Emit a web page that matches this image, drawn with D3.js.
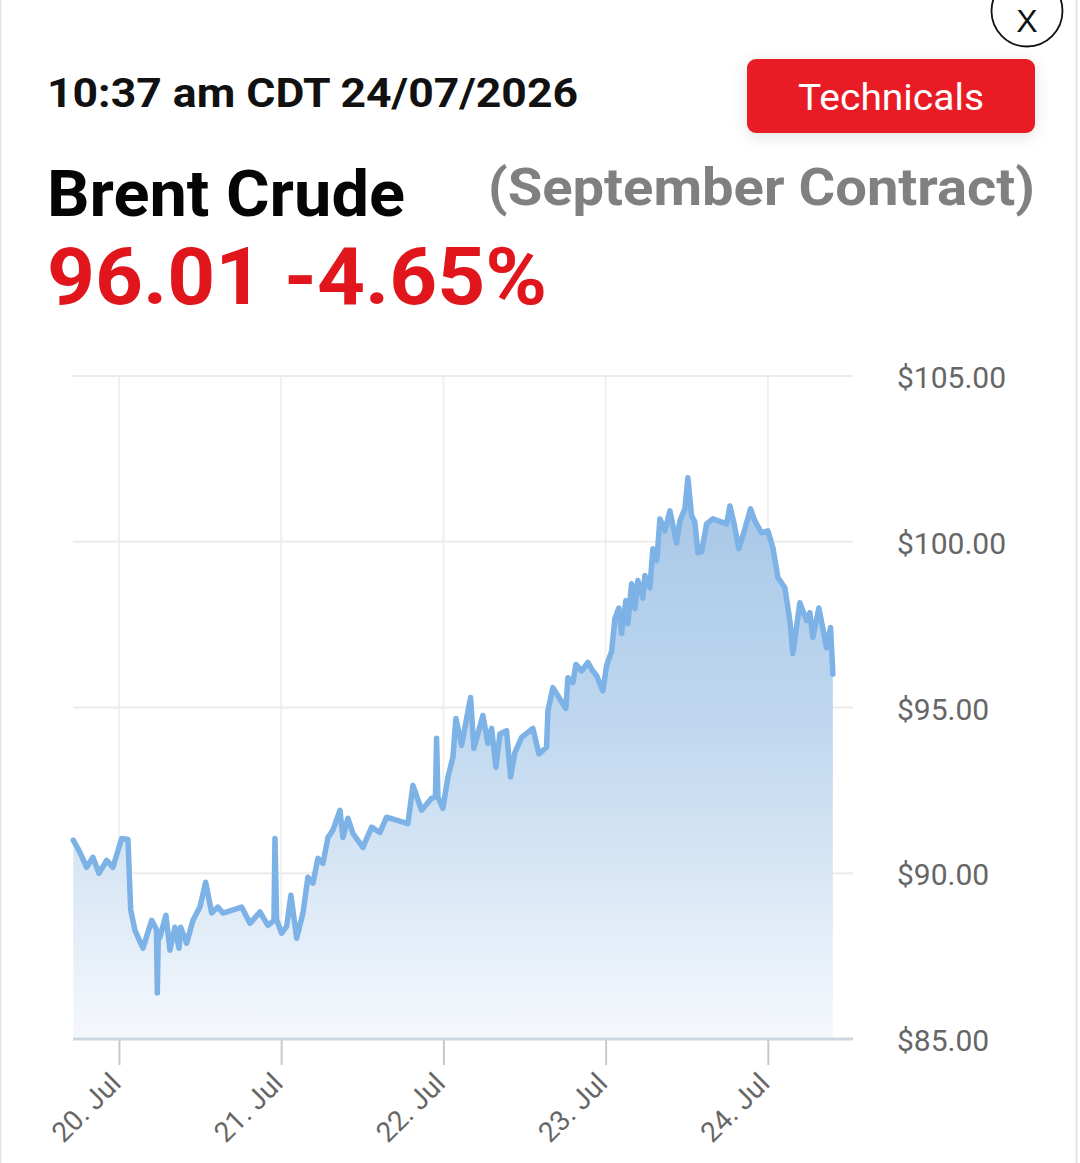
<!DOCTYPE html>
<html>
<head>
<meta charset="utf-8">
<script src="https://cdn.jsdelivr.net/npm/d3@7"></script>
<style>
  html, body { margin: 0; padding: 0; background: #ffffff; }
  svg { display: block; font-family: Roboto, "Liberation Sans", Arial, sans-serif; }
</style>
</head>
<body>
<svg id="chart" width="1080" height="1163"></svg>
<script>
// ---- data (hours after 20 Jul 2026 00:00, price in USD) ----
const hours = [
  -6.76, -5.77, -4.78, -3.85, -2.96, -1.82, -0.89, 0.40, 1.33, 1.73,
  2.37, 3.55, 4.84, 5.55, 5.67, 5.81, 6.06, 6.95, 7.54, 8.28,
  8.88, 9.13, 10.01, 10.95, 11.98, 12.83, 13.71, 14.64, 15.38, 18.15,
  19.38, 20.86, 22.04, 22.93, 23.08, 23.33, 24.07, 24.81, 25.44, 26.29,
  27.22, 27.96, 28.70, 29.44, 30.18, 30.92, 31.66, 32.70, 33.13, 33.87,
  34.62, 35.35, 36.09, 37.38, 38.61, 39.60, 42.75, 43.49, 44.78, 46.25,
  46.82, 46.99, 47.19, 47.93, 48.67, 49.41, 49.85, 50.69, 52.02, 52.51,
  53.84, 54.58, 55.13, 55.77, 56.36, 57.35, 57.94, 58.58, 59.57, 61.24,
  62.13, 63.26, 63.46, 64.20, 66.12, 66.42, 67.16, 67.60, 68.45, 69.38,
  70.12, 70.67, 71.59, 72.15, 72.89, 73.37, 73.96, 74.36, 74.99, 75.29,
  75.84, 76.33, 76.77, 77.51, 77.81, 78.55, 78.99, 79.58, 80.03, 80.77,
  81.51, 82.50, 82.99, 83.73, 84.17, 84.72, 85.20, 85.65, 86.20, 86.94,
  87.87, 89.90, 90.39, 90.98, 91.72, 92.61, 93.44, 94.08, 95.07, 96.01,
  96.75, 97.49, 98.52, 99.26, 99.70, 100.74, 101.73, 102.22, 102.66, 103.55,
  104.69, 105.28, 105.62
];
const prices = [
  91.00, 90.63, 90.18, 90.48, 90.00, 90.39, 90.18, 91.05, 91.02, 88.90,
  88.28, 87.74, 88.58, 88.30, 86.39, 88.00, 88.07, 88.73, 87.68, 88.37,
  87.74, 88.37, 87.89, 88.58, 88.98, 89.73, 88.80, 88.98, 88.80, 88.98,
  88.49, 88.83, 88.43, 88.58, 91.05, 88.60, 88.19, 88.40, 89.34, 88.04,
  88.80, 89.88, 89.70, 90.45, 90.30, 91.08, 91.30, 91.90, 91.08, 91.66,
  91.20, 90.99, 90.78, 91.39, 91.23, 91.69, 91.50, 92.65, 91.90, 92.26,
  92.30, 94.07, 92.30, 91.96, 92.90, 93.50, 94.67, 93.86, 95.30, 93.77,
  94.76, 93.92, 94.37, 93.20, 94.20, 94.30, 92.90, 93.64, 94.10, 94.37,
  93.60, 93.80, 94.90, 95.60, 94.97, 95.90, 95.75, 96.30, 96.10, 96.36,
  96.10, 95.96, 95.50, 96.27, 96.70, 97.68, 98.00, 97.23, 98.22, 97.53,
  98.73, 97.98, 98.83, 98.30, 98.98, 98.61, 99.79, 99.43, 100.69, 100.33,
  100.93, 99.97, 100.63, 101.00, 101.93, 100.78, 100.60, 99.67, 99.70, 100.54,
  100.69, 100.54, 101.08, 100.57, 99.79, 100.39, 100.99, 100.63, 100.27, 100.33,
  99.82, 98.92, 98.61, 97.62, 96.63, 98.16, 97.62, 97.86, 97.11, 98.00,
  96.80, 97.41, 96.01
];
const yTicks = [85, 90, 95, 100, 105];
const dayTicks = ["2026-07-20", "2026-07-21", "2026-07-22", "2026-07-23", "2026-07-24"];
const timestampText = "10:37 am CDT 24/07/2026";
const titleText = "Brent Crude";
const subtitleText = "(September Contract)";
const quoteText = "96.01 -4.65%";
const buttonText = "Technicals";

// ---- build ----
const base = Date.UTC(2026, 6, 20);
const series = hours.map((h, i) => ({ t: new Date(base + h * 3600e3), v: prices[i] }));
const tickDates = dayTicks.map(s => new Date(s + "T00:00:00Z"));

const svg = d3.select("#chart");
const defs = svg.append("defs");

// panel border
svg.append("rect").attr("x", 0.5).attr("y", -2).attr("width", 1076).attr("height", 1170)
  .attr("fill", "#fff").attr("stroke", "#e4e4e4").attr("stroke-width", 2);

// shadow filter for button
const f = defs.append("filter").attr("id", "shadow").attr("x", "-30%").attr("y", "-60%").attr("width", "160%").attr("height", "220%");
f.append("feDropShadow").attr("dx", 0).attr("dy", 3).attr("stdDeviation", 8).attr("flood-color", "#000").attr("flood-opacity", 0.12);

// header texts
svg.append("text").attr("x", 47).attr("y", 107).text(timestampText)
  .attr("font-size", 41).attr("font-weight", "bold").attr("fill", "#111")
  .attr("textLength", 531).attr("lengthAdjust", "spacingAndGlyphs");

svg.append("text").attr("x", 47).attr("y", 216).text(titleText)
  .attr("font-size", 64).attr("font-weight", "bold").attr("fill", "#050505")
  .attr("textLength", 358).attr("lengthAdjust", "spacingAndGlyphs");

svg.append("text").attr("x", 488).attr("y", 205).text(subtitleText)
  .attr("font-size", 52).attr("font-weight", "bold").attr("fill", "#808080")
  .attr("textLength", 547).attr("lengthAdjust", "spacingAndGlyphs");

svg.append("text").attr("x", 47).attr("y", 304).text(quoteText)
  .attr("font-size", 80).attr("font-weight", "bold").attr("fill", "#e0161c")
  .attr("textLength", 500).attr("lengthAdjust", "spacingAndGlyphs");

// button
svg.append("rect").attr("x", 747).attr("y", 59).attr("width", 288).attr("height", 74).attr("rx", 9)
  .attr("fill", "#e91e27").attr("filter", "url(#shadow)");
svg.append("text").attr("x", 891).attr("y", 110).attr("text-anchor", "middle").text(buttonText)
  .attr("font-size", 36).attr("fill", "#ffffff")
  .attr("textLength", 186).attr("lengthAdjust", "spacingAndGlyphs");

// close button
svg.append("circle").attr("cx", 1027).attr("cy", 11).attr("r", 35.5)
  .attr("fill", "#fff").attr("stroke", "#111").attr("stroke-width", 1.8);
svg.append("text").attr("x", 1027).attr("y", 32).attr("text-anchor", "middle").text("X")
  .attr("font-size", 32).attr("fill", "#111").attr("font-family", "Liberation Sans, Arial, sans-serif");

// ---- chart ----
const plot = { left: 73, right: 853, top: 376, bottom: 1039 };
const x = d3.scaleUtc()
  .domain([new Date(base - 6.8 * 3600e3), new Date(base + 108.6 * 3600e3)])
  .range([plot.left, plot.right]);
const y = d3.scaleLinear().domain([85, 105]).range([plot.bottom, plot.top]);

// vertical grid
svg.append("g").selectAll("line").data(tickDates).join("line")
  .attr("x1", d => x(d)).attr("x2", d => x(d))
  .attr("y1", plot.top).attr("y2", plot.bottom)
  .attr("stroke", "#f0f0f0").attr("stroke-width", 2);

// horizontal grid
svg.append("g").selectAll("line").data(yTicks).join("line")
  .attr("x1", plot.left).attr("x2", plot.right)
  .attr("y1", d => y(d)).attr("y2", d => y(d))
  .attr("stroke", "#ececec").attr("stroke-width", 2);

// area gradient
const maxV = d3.max(prices);
const grad = defs.append("linearGradient").attr("id", "areaGrad")
  .attr("gradientUnits", "userSpaceOnUse")
  .attr("x1", 0).attr("x2", 0).attr("y1", y(maxV)).attr("y2", plot.bottom);
grad.append("stop").attr("offset", 0).attr("stop-color", "#a6c6e6");
grad.append("stop").attr("offset", 0.45).attr("stop-color", "#c0d8ef");
grad.append("stop").attr("offset", 1).attr("stop-color", "#f5f8fc");

const area = d3.area().x(d => x(d.t)).y0(plot.bottom).y1(d => y(d.v));
const line = d3.line().x(d => x(d.t)).y(d => y(d.v));

svg.append("path").datum(series).attr("d", area).attr("fill", "url(#areaGrad)");
svg.append("path").datum(series).attr("d", line)
  .attr("fill", "none").attr("stroke", "#7cb2e6").attr("stroke-width", 5.5)
  .attr("stroke-linejoin", "round").attr("stroke-linecap", "round");

// x axis
const xAxis = d3.axisBottom(x).tickValues(tickDates).tickSize(26)
  .tickFormat(d => d3.utcFormat("%-d. %b")(d));
const gx = svg.append("g").attr("transform", `translate(0,${plot.bottom})`).call(xAxis);
gx.select(".domain").remove();
gx.selectAll(".tick line").attr("stroke", "#c8c8c8").attr("stroke-width", 2);
gx.selectAll(".tick text")
  .attr("font-size", 28).attr("fill", "#666").attr("font-family", "Roboto, sans-serif")
  .attr("text-anchor", "end").attr("dy", null).attr("y", null)
  .attr("transform", "translate(3,46) rotate(-45)");
svg.append("line").attr("x1", plot.left).attr("x2", plot.right)
  .attr("y1", plot.bottom).attr("y2", plot.bottom)
  .attr("stroke", "#ccd6e0").attr("stroke-width", 3);

// y axis (labels on right)
const yAxis = d3.axisRight(y).tickValues(yTicks).tickSize(0).tickPadding(0)
  .tickFormat(d => "$" + d3.format(".2f")(d));
const gy = svg.append("g").attr("transform", `translate(897,2)`).call(yAxis);
gy.select(".domain").remove();
gy.selectAll(".tick text").attr("font-size", 30).attr("fill", "#666").attr("font-family", "Roboto, sans-serif");
</script>
</body>
</html>
